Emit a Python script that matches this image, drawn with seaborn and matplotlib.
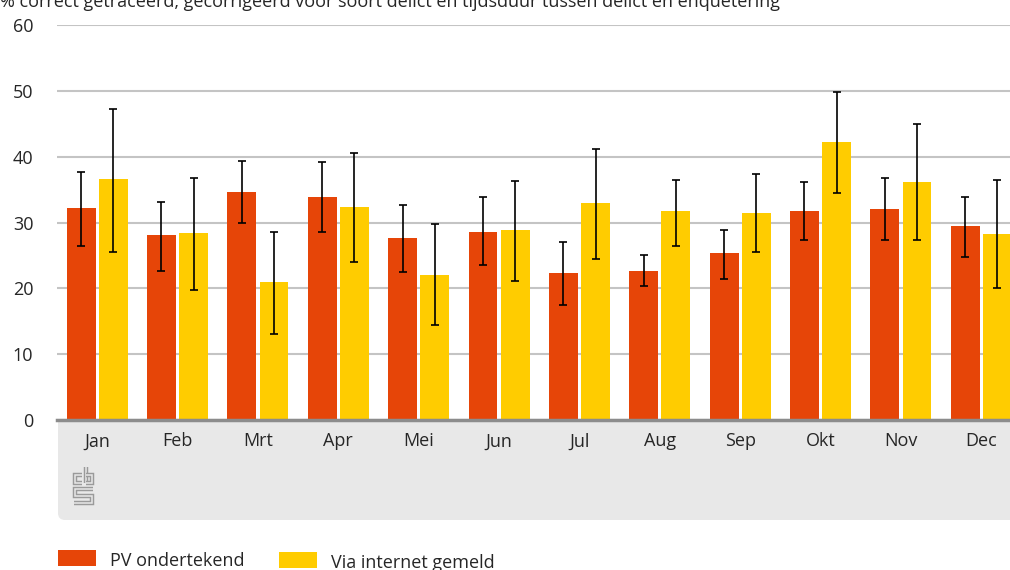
import matplotlib
matplotlib.use("Agg")
import matplotlib.pyplot as plt
import matplotlib.patches as mpatches
from matplotlib.lines import Line2D
from matplotlib.transforms import IdentityTransform
import numpy as np
import pandas as pd
import seaborn as sns

# ── Data ───────────────────────────────────────────────────────────────────────
months = ["Jan", "Feb", "Mrt", "Apr", "Mei", "Jun",
          "Jul", "Aug", "Sep", "Okt", "Nov", "Dec"]
series = ["PV ondertekend", "Via internet gemeld"]

pv_value = [32.2, 28.1, 34.7, 33.9, 27.7, 28.6, 22.4, 22.7, 25.3, 31.8, 32.1, 29.4]
pv_low   = [26.5, 22.7, 29.9, 28.6, 22.5, 23.5, 17.4, 20.3, 21.4, 27.4, 27.3, 24.7]
pv_high  = [37.7, 33.1, 39.4, 39.2, 32.7, 33.8, 27.1, 25.1, 28.9, 36.1, 36.8, 33.8]

web_value = [36.6, 28.4, 21.0, 32.4, 22.1, 28.8, 32.9, 31.7, 31.5, 42.3, 36.2, 28.3]
web_low   = [25.5, 19.8, 13.0, 24.0, 14.4, 21.1, 24.5, 26.5, 25.5, 34.5, 27.3, 20.0]
web_high  = [47.3, 36.8, 28.6, 40.6, 29.8, 36.3, 41.1, 36.4, 37.4, 49.8, 44.9, 36.5]

title = ("% correct getraceerd, gecorrigeerd voor soort delict en tijdsduur "
         "tussen delict en enquêtering")

RED = "#e64508"
YELLOW = "#ffcc00"
PANEL = "#e8e8e8"
TEXT = "#262626"
FS = 13

sns.set_theme(style="white")
plt.rcParams["font.family"] = ["Open Sans", "DejaVu Sans"]

df = pd.DataFrame({
    "Maand": months * 2,
    "Waarde": pv_value + web_value,
    "Wijze": [series[0]] * len(months) + [series[1]] * len(months),
})

# ── Figure (pixel based layout, 1010 x 570) ────────────────────────────────────
W, H = 1010, 570
fig = plt.figure(figsize=(W / 100, H / 100), dpi=100)
px = IdentityTransform()

# grey panel under the x axis (top part hidden behind the axes background)
panel = mpatches.FancyBboxPatch(
    (58, H - 520), 1000, 120,
    boxstyle="round,pad=0,rounding_size=7",
    transform=px, facecolor=PANEL, edgecolor="none", zorder=-1,
)
fig.add_artist(panel)

ax = fig.add_axes([57 / W, (H - 420) / H, 964.5 / W, 395 / H])
ax.set_facecolor("white")

sns.barplot(
    data=df, x="Maand", y="Waarde", hue="Wijze",
    palette=[RED, YELLOW], saturation=1,
    width=0.8, gap=0.1, errorbar=None, legend=False,
    linewidth=0, ax=ax,
)

# confidence intervals
for container, vals, low, high in zip(
    ax.containers, [pv_value, web_value], [pv_low, web_low], [pv_high, web_high]
):
    xs = [p.get_x() + p.get_width() / 2 for p in container]
    vals = np.array(vals)
    yerr = [vals - np.array(low), np.array(high) - vals]
    ax.errorbar(xs, vals, yerr=yerr, fmt="none", ecolor="black",
                elinewidth=1.2, capsize=3, capthick=1.2, zorder=3)

ax.set_ylim(0, 60)
ax.set_xlim(-0.5, 11.5)
ax.set_yticks(range(0, 61, 10))
ax.set_xlabel("")
ax.set_ylabel("")
ax.yaxis.grid(True, color="#c4c4c4", linewidth=1.5)
ax.set_axisbelow(True)
for side in ("left", "right", "top"):
    ax.spines[side].set_visible(False)
ax.spines["bottom"].set_color("#8c8c8c")
ax.spines["bottom"].set_linewidth(2.5)
ax.spines["bottom"].set_zorder(4)
ax.tick_params(axis="y", length=0, pad=17, labelsize=FS, labelcolor=TEXT)
ax.tick_params(axis="x", length=0, pad=9, labelsize=FS, labelcolor=TEXT)

# title (partly outside the top edge, as in the source)
fig.text(0, (H - 7) / H, title, fontsize=FS, color=TEXT, va="baseline", ha="left")

# CBS logo (simple line drawing)
logo_paths = [
    [(82, 474.5), (74.5, 474.5), (74.5, 483), (82, 483)],
    [(86, 467), (86, 483)],
    [(86, 474.5), (92, 474.5), (92, 483), (86, 483)],
    [(93, 489), (74.5, 489), (74.5, 496), (92, 496),
     (92, 503), (73.5, 503)],
]
for path in logo_paths:
    xs = [p[0] for p in path]
    ys = [H - p[1] for p in path]
    fig.add_artist(Line2D(xs, ys, transform=px, color="#9a9a9a",
                          linewidth=3.2, solid_capstyle="butt",
                          solid_joinstyle="miter"))
    fig.add_artist(Line2D(xs, ys, transform=px, color=PANEL,
                          linewidth=1.1, solid_capstyle="butt",
                          solid_joinstyle="miter"))

# legend at the bottom
legend_items = [(series[0], RED, 58, 550), (series[1], YELLOW, 279, 552)]
for label, color, x0, y0 in legend_items:
    fig.add_artist(mpatches.Rectangle((x0, H - y0 - 16), 38, 16, transform=px,
                                      facecolor=color, edgecolor="none"))
    fig.text((x0 + 52) / W, (H - y0 - 11) / H, label, fontsize=FS,
             color=TEXT, va="center", ha="left")

fig.savefig("out.png", dpi=100)
